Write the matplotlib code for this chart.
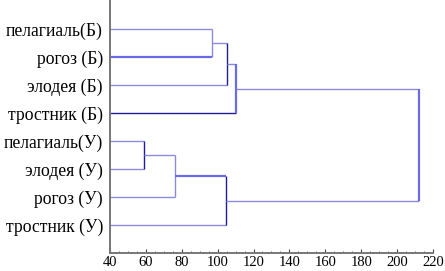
import matplotlib
matplotlib.use("Agg")
import matplotlib.pyplot as plt
from matplotlib.ticker import MultipleLocator

# leaves, top to bottom
leaves = ["пелагиаль(Б)", "рогоз (Б)", "элодея (Б)", "тростник (Б)",
          "пелагиаль(У)", "элодея (У)", "рогоз (У)", "тростник (У)"]

# merges: (upper child, lower child, linkage distance); new nodes get ids 8, 9, ...
merge_a = [0, 8, 9, 4, 11, 12, 10]
merge_b = [1, 2, 3, 5, 6, 7, 13]
merge_h = [97, 105.3, 110, 59, 76, 104.5, 212]

LIGHT = "#8a8ade"
DARK = "#1e1e96"
BRIGHT = "#6b6bea"
# colours: upper leg, lower leg, vertical
merge_col = [(LIGHT, BRIGHT, LIGHT), (LIGHT, LIGHT, DARK), (LIGHT, DARK, BRIGHT),
             (LIGHT, LIGHT, DARK), (LIGHT, LIGHT, LIGHT), (BRIGHT, LIGHT, DARK),
             (LIGHT, LIGHT, BRIGHT)]

plt.rcParams['font.family'] = ['Liberation Serif', 'DejaVu Serif']

fig = plt.figure(figsize=(4.45, 2.71), dpi=100)
ax = fig.add_axes([0.247, 0.066, 0.726, 0.930])

xmin = 40
pos = {i: (xmin, len(leaves) - i) for i in range(len(leaves))}
for k, (a, b, h) in enumerate(zip(merge_a, merge_b, merge_h)):
    xa, ya = pos[a]
    xb, yb = pos[b]
    ca, cb, cv = merge_col[k]
    ax.plot([xa, h], [ya, ya], color=ca, lw=1.6 if ca == BRIGHT else 1.0, solid_capstyle='butt')
    ax.plot([xb, h], [yb, yb], color=cb, lw=1.6 if cb == BRIGHT else 1.0, solid_capstyle='butt')
    ax.plot([h, h], [ya, yb], color=cv, lw=1.6 if cv == BRIGHT else 1.0, solid_capstyle='butt')
    pos[len(leaves) + k] = (h, (ya + yb) / 2)

ax.set_xlim(40, 220)
ax.set_ylim(0, 9)
ax.set_yticks(range(len(leaves), 0, -1))
ax.set_yticklabels(leaves, fontsize=12.7)
ax.xaxis.set_major_locator(MultipleLocator(20))
ax.xaxis.set_minor_locator(MultipleLocator(5))
ax.tick_params(axis='x', direction='in', length=3, width=0.8, color='#444444', labelsize=10.5, pad=2)
ax.tick_params(axis='x', which='minor', direction='in', length=1.5, width=0.6, color='#444444')
ax.tick_params(axis='y', length=0, pad=5)
for s in ['top', 'right']:
    ax.spines[s].set_visible(False)
for s in ['left', 'bottom']:
    ax.spines[s].set_color('#777777')
    ax.spines[s].set_linewidth(1.4)

fig.savefig("out.png", dpi=100)
